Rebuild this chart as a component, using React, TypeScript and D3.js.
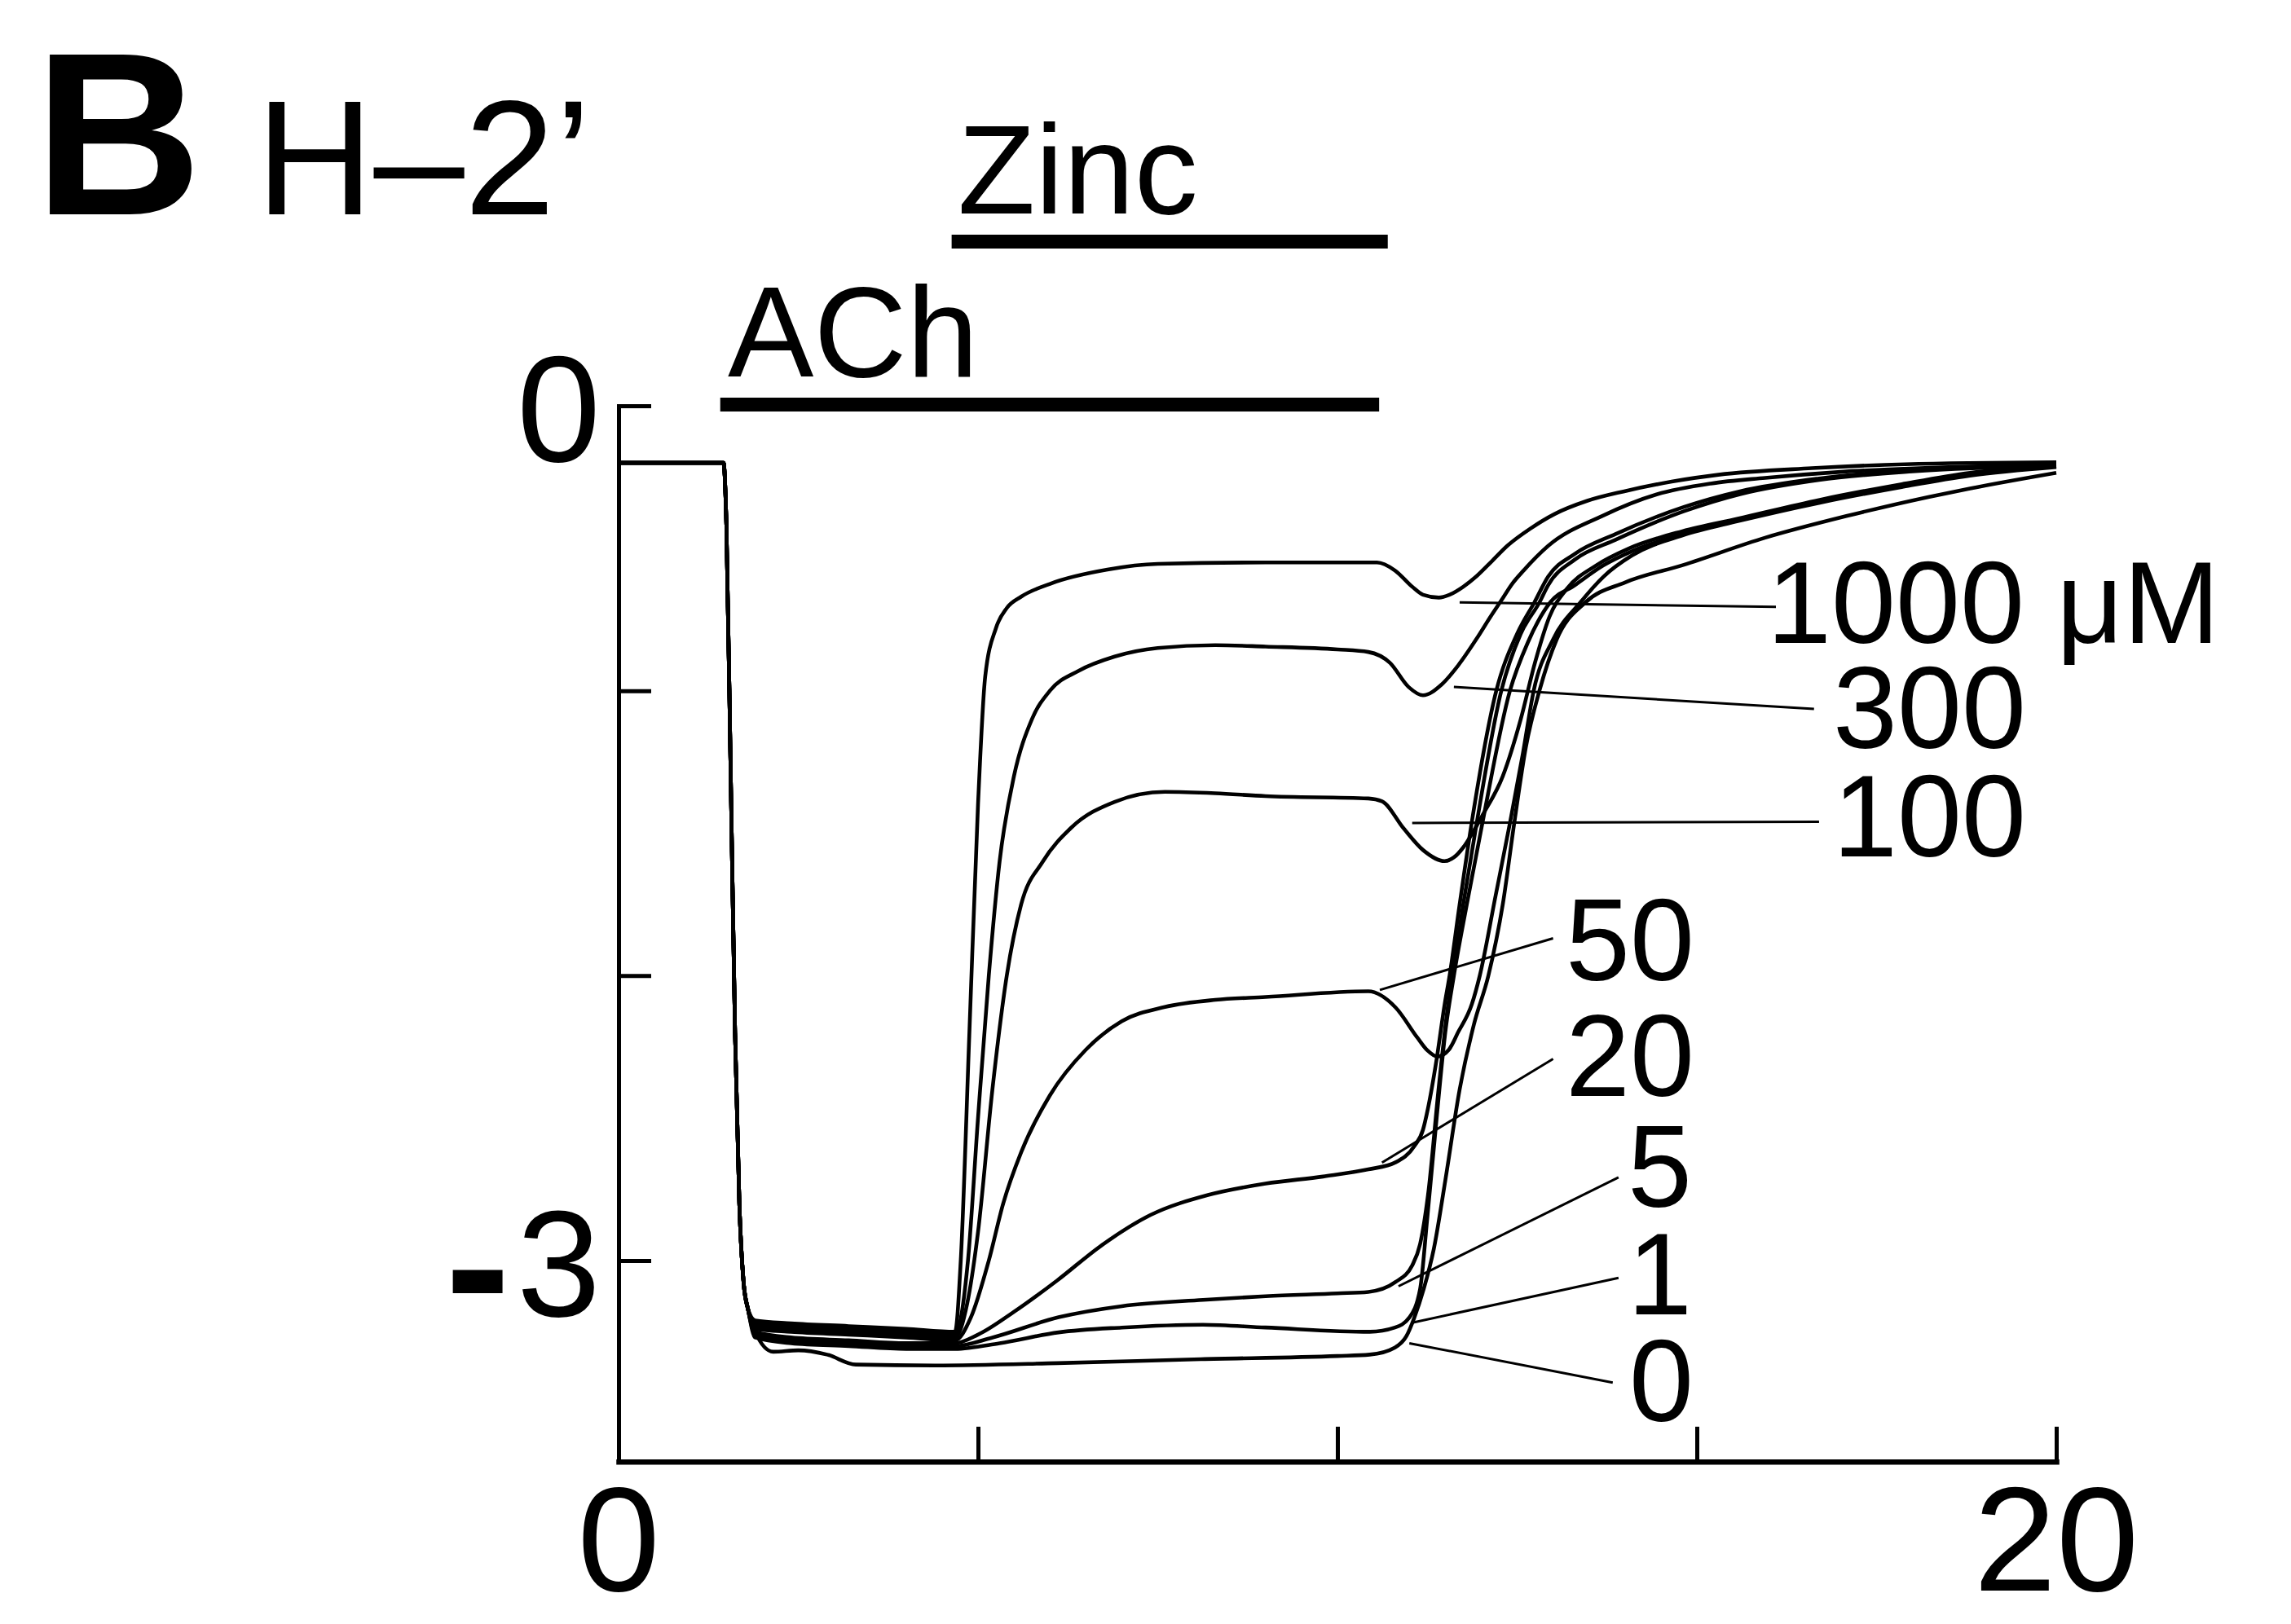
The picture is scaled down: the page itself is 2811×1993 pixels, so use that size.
import React, { useRef, useEffect } from "react";
import * as d3 from "d3";

const W = 2811;
const H = 1993;

// ACh onset, common to every trace (time in s, current in µA)
const onsetT = [0, 1.46, 1.5, 1.56, 1.62, 1.68, 1.74, 1.8];
const onsetI = [-0.2, -0.2, -0.42, -1.3, -2.2, -2.8, -3.08, -3.17];

// 1000 µM zinc
const t1000 = [1.9, 2.4, 3.2, 4.0, 4.68, 4.76, 4.88, 5.0, 5.1, 5.25, 5.4, 5.6, 6.0, 6.8, 7.5, 9.0, 10.55, 10.8, 11.04, 11.19, 11.41, 11.56, 11.75, 11.94, 12.15, 12.37, 12.69, 13.02, 13.47, 13.99, 14.65, 15.3, 16.6, 17.9, 20];
const i1000 = [-3.21, -3.22, -3.23, -3.24, -3.25, -3.0, -2.2, -1.4, -0.95, -0.78, -0.71, -0.67, -0.625, -0.575, -0.555, -0.55, -0.55, -0.578, -0.635, -0.663, -0.673, -0.663, -0.635, -0.597, -0.545, -0.49, -0.43, -0.38, -0.334, -0.3, -0.266, -0.242, -0.219, -0.205, -0.198];

// 300 µM
const t300 = [1.9, 2.4, 3.2, 4.0, 4.68, 4.86, 5.0, 5.15, 5.3, 5.5, 5.75, 6.0, 6.4, 6.9, 7.5, 8.3, 9.0, 10.0, 10.43, 10.73, 10.99, 11.19, 11.45, 11.68, 11.94, 12.13, 12.28, 12.43, 12.59, 12.93, 13.68, 14.44, 15.19, 15.95, 17.0, 18.5, 20];
const i300 = [-3.22, -3.23, -3.24, -3.25, -3.26, -3.0, -2.5, -2.0, -1.6, -1.3, -1.1, -1.0, -0.93, -0.88, -0.85, -0.84, -0.845, -0.855, -0.864, -0.902, -0.987, -1.016, -0.978, -0.911, -0.816, -0.74, -0.683, -0.625, -0.578, -0.492, -0.387, -0.311, -0.273, -0.253, -0.232, -0.215, -0.205];

// 100 µM
const t100 = [1.9, 2.4, 3.2, 4.0, 4.68, 4.85, 5.0, 5.2, 5.4, 5.6, 5.9, 6.3, 6.9, 7.6, 8.3, 9.0, 10.43, 10.62, 10.92, 11.19, 11.49, 11.62, 11.75, 11.9, 12.02, 12.3, 12.55, 12.75, 12.95, 13.2, 13.6, 14.06, 14.8, 15.57, 16.71, 17.85, 18.8, 20];
const i100 = [-3.23, -3.24, -3.25, -3.26, -3.27, -3.15, -2.9, -2.4, -2.0, -1.75, -1.6, -1.48, -1.39, -1.355, -1.36, -1.37, -1.378, -1.388, -1.483, -1.559, -1.598, -1.585, -1.55, -1.49, -1.436, -1.3, -1.1, -0.9, -0.74, -0.64, -0.56, -0.5, -0.44, -0.396, -0.33, -0.275, -0.235, -0.21];

// 50 µM
const t50 = [1.9, 2.4, 3.2, 4.0, 4.68, 4.9, 5.15, 5.35, 5.6, 6.0, 6.5, 7.0, 7.6, 8.3, 9.0, 10.43, 10.81, 11.11, 11.25, 11.39, 11.55, 11.68, 11.87, 11.98, 12.2, 12.4, 12.58, 12.73, 13.0, 13.38, 13.7, 14.1, 14.8, 15.57, 16.71, 17.85, 18.8, 20];
const i50 = [-3.24, -3.25, -3.26, -3.27, -3.28, -3.2, -3.0, -2.8, -2.62, -2.42, -2.26, -2.16, -2.11, -2.085, -2.075, -2.055, -2.112, -2.217, -2.262, -2.284, -2.26, -2.198, -2.1, -2.0, -1.72, -1.464, -1.22, -1.0, -0.82, -0.69, -0.6, -0.525, -0.455, -0.405, -0.34, -0.285, -0.245, -0.215];

// 20 µM
const t20 = [1.9, 2.4, 3.2, 4.0, 4.68, 5.0, 5.5, 6.1, 6.7, 7.4, 8.2, 9.0, 9.8, 10.43, 10.81, 11.07, 11.19, 11.26, 11.38, 11.49, 11.56, 11.7, 11.87, 12.21, 12.5, 12.74, 12.93, 13.3, 13.87, 14.82, 15.6, 16.7, 18, 20];
const i20 = [-3.25, -3.27, -3.28, -3.29, -3.29, -3.26, -3.18, -3.07, -2.95, -2.84, -2.77, -2.73, -2.705, -2.68, -2.655, -2.598, -2.541, -2.465, -2.293, -2.103, -2.0, -1.75, -1.46, -1.0, -0.8, -0.69, -0.6, -0.52, -0.45, -0.355, -0.3, -0.255, -0.225, -0.205];

// 5 µM
const t5 = [1.9, 2.4, 3.2, 4.0, 4.68, 5.2, 6.12, 7.0, 8.13, 9.0, 10.0, 10.43, 10.81, 11.04, 11.15, 11.26, 11.41, 11.53, 11.6, 11.75, 11.94, 12.28, 12.55, 12.81, 12.93, 13.3, 13.87, 14.82, 15.6, 16.7, 18, 20];
const i5 = [-3.26, -3.28, -3.29, -3.3, -3.3, -3.27, -3.199, -3.16, -3.138, -3.125, -3.115, -3.11, -3.075, -3.017, -2.942, -2.77, -2.39, -2.12, -2.0, -1.75, -1.46, -1.0, -0.8, -0.69, -0.63, -0.54, -0.47, -0.37, -0.31, -0.26, -0.23, -0.21];

// 1 µM
const t1 = [1.9, 2.4, 3.2, 4.0, 4.68, 5.3, 6.12, 7.0, 8.13, 9.0, 10.45, 10.8, 11.0, 11.15, 11.25, 11.38, 11.5, 11.62, 11.8, 12.02, 12.4, 12.65, 12.96, 13.3, 13.7, 14.1, 14.8, 15.57, 16.71, 17.85, 18.8, 20];
const i1 = [-3.27, -3.29, -3.3, -3.31, -3.31, -3.29, -3.252, -3.235, -3.225, -3.235, -3.25, -3.235, -3.2, -3.1, -2.85, -2.5, -2.2, -2.0, -1.75, -1.46, -1.0, -0.83, -0.69, -0.63, -0.56, -0.51, -0.45, -0.4, -0.335, -0.28, -0.24, -0.212];

// 0 µM (ACh alone)
const t0 = [1.9, 2.15, 2.5, 2.9, 3.3, 4.4, 6.1, 8.1, 10.0, 10.45, 10.8, 10.96, 11.07, 11.2, 11.34, 11.5, 11.7, 11.9, 12.1, 12.3, 12.46, 12.62, 12.81, 13.05, 13.45, 14.0, 14.82, 15.95, 17.08, 18.22, 18.8, 20];
const i0 = [-3.25, -3.32, -3.315, -3.33, -3.365, -3.368, -3.36, -3.346, -3.335, -3.33, -3.305, -3.265, -3.2, -3.1, -2.96, -2.72, -2.4, -2.17, -2.0, -1.75, -1.464, -1.2, -1.0, -0.82, -0.69, -0.62, -0.558, -0.463, -0.387, -0.32, -0.29, -0.235];

// zinc concentration labels and their leader lines (start / end in data units)
const concLabels = ["1000 μM", "300", "100", "50", "20", "5", "1", "0"];
const leadT0 = [11.7, 11.62, 11.04, 10.59, 10.62, 10.85, 11.04, 11.0];
const leadI0 = [-0.69, -0.987, -1.464, -2.05, -2.656, -3.09, -3.218, -3.29];
const leadT1 = [16.1, 16.63, 16.7, 13.0, 13.0, 13.91, 13.91, 13.83];
const leadI1 = [-0.706, -1.064, -1.46, -1.869, -2.292, -2.708, -3.061, -3.428];

// application bars (s)
const achBar = [1.414, 10.58];
const zincBar = [4.633, 10.7];

const yTicks = [0, -1, -2, -3];
const xTicks = [5, 10, 15, 20];
const xTickLabels = [0, 20];

// label placement (px)
const labelX = [2168, 2249, 2249, 1921, 1921, 1997, 1997, 1999];
const labelY = [789, 918, 1051, 1203, 1345, 1481, 1613, 1744];

const FONT = "'Liberation Sans', Arial, Helvetica, sans-serif";

const zip = (t: number[], v: number[]) => t.map((d, k) => [d, v[k]] as [number, number]);

const App = () => {
    const svgRef = useRef<SVGSVGElement>(null);

    useEffect(() => {
        const svg = d3.select(svgRef.current);
        svg.selectAll("*").remove();

        const x = d3.scaleLinear().domain([0, 20]).range([759, 2523]);
        const y = d3.scaleLinear().domain([0, -3]).range([498, 1547]);
        const yBottom = y(-3.706);

        svg.append("rect").attr("width", W).attr("height", H).attr("fill", "white");

        // axes
        const yAxisScale = d3.scaleLinear().domain([0, -3.706]).range([498, yBottom]);
        const gy = svg
            .append("g")
            .attr("transform", `translate(${x(0)},0)`)
            .call(d3.axisRight(yAxisScale).tickValues(yTicks).tickSize(40).tickSizeOuter(0).tickFormat(() => ""));
        gy.selectAll("text").remove();
        gy.select(".domain").attr("stroke-width", 5).attr("stroke-linecap", "square");
        gy.selectAll(".tick line").attr("stroke-width", 5);

        const gx = svg
            .append("g")
            .attr("transform", `translate(0,${yBottom})`)
            .call(d3.axisTop(x).tickValues(xTicks).tickSize(43).tickSizeOuter(0).tickFormat(() => ""));
        gx.selectAll("text").remove();
        gx.select(".domain").attr("stroke-width", 6.5).attr("stroke-linecap", "square");
        gx.selectAll(".tick line").attr("stroke-width", 5);

        // tick labels
        svg.append("text")
            .attr("x", 737).attr("y", y(0) + 68)
            .attr("text-anchor", "end")
            .style("font-family", FONT).style("font-size", "185px")
            .text("0");
        const m3 = svg.append("text")
            .attr("x", 737).attr("y", y(-3) + 68)
            .attr("text-anchor", "end")
            .style("font-family", FONT).style("font-size", "185px");
        m3.append("tspan").attr("dy", 20).style("font-weight", "bold").style("font-size", "240px").text("-");
        m3.append("tspan").attr("dy", -20).attr("dx", 8).text("3");

        svg.selectAll(".xlab")
            .data(xTickLabels)
            .enter()
            .append("text")
            .attr("class", "xlab")
            .attr("x", d => x(d))
            .attr("y", 1952)
            .attr("text-anchor", "middle")
            .style("font-family", FONT).style("font-size", "182px")
            .text(d => d);

        // application bars
        svg.append("rect")
            .attr("x", x(achBar[0])).attr("width", x(achBar[1]) - x(achBar[0]))
            .attr("y", 488).attr("height", 17).attr("fill", "black");
        svg.append("rect")
            .attr("x", x(zincBar[0])).attr("width", x(zincBar[1]) - x(zincBar[0]))
            .attr("y", 288).attr("height", 17).attr("fill", "black");
        svg.append("text")
            .attr("x", 893).attr("y", 462)
            .style("font-family", FONT).style("font-size", "158px")
            .text("ACh");
        svg.append("text")
            .attr("x", 1175).attr("y", 262)
            .style("font-family", FONT).style("font-size", "156px")
            .text("Zinc");

        // panel titles
        svg.append("text")
            .attr("x", 42).attr("y", 263)
            .style("font-family", FONT).style("font-size", "285px").style("font-weight", "bold")
            .text("B");
        svg.append("text")
            .attr("x", 314).attr("y", 263)
            .style("font-family", FONT).style("font-size", "200px")
            .text("H–2’");

        // current traces
        const onset = zip(onsetT, onsetI);
        const traces = [
            zip(t1000, i1000),
            zip(t300, i300),
            zip(t100, i100),
            zip(t50, i50),
            zip(t20, i20),
            zip(t5, i5),
            zip(t1, i1),
            zip(t0, i0),
        ].map(tr => onset.concat(tr));

        const line = d3.line<[number, number]>()
            .x(d => x(d[0]))
            .y(d => y(d[1]))
            .curve(d3.curveMonotoneX);

        svg.append("g")
            .selectAll("path")
            .data(traces)
            .enter()
            .append("path")
            .attr("d", d => line(d))
            .attr("fill", "none")
            .attr("stroke", "black")
            .attr("stroke-width", 4.6)
            .attr("stroke-linejoin", "round");

        // leader lines + labels
        svg.append("g")
            .selectAll("line")
            .data(concLabels)
            .enter()
            .append("line")
            .attr("x1", (d, k) => x(leadT0[k]))
            .attr("y1", (d, k) => y(leadI0[k]))
            .attr("x2", (d, k) => x(leadT1[k]))
            .attr("y2", (d, k) => y(leadI1[k]))
            .attr("stroke", "black")
            .attr("stroke-width", 3);

        svg.append("g")
            .selectAll("text")
            .data(concLabels)
            .enter()
            .append("text")
            .attr("x", (d, k) => labelX[k])
            .attr("y", (d, k) => labelY[k])
            .style("font-family", FONT)
            .style("font-size", "142px")
            .text(d => d);
    }, []);

    return (
        <svg
            ref={svgRef}
            width={W}
            height={H}
            viewBox={`0 0 ${W} ${H}`}
            style={{ position: "absolute", left: 0, top: 0, display: "block" }}
        />
    );
};

export default App;
